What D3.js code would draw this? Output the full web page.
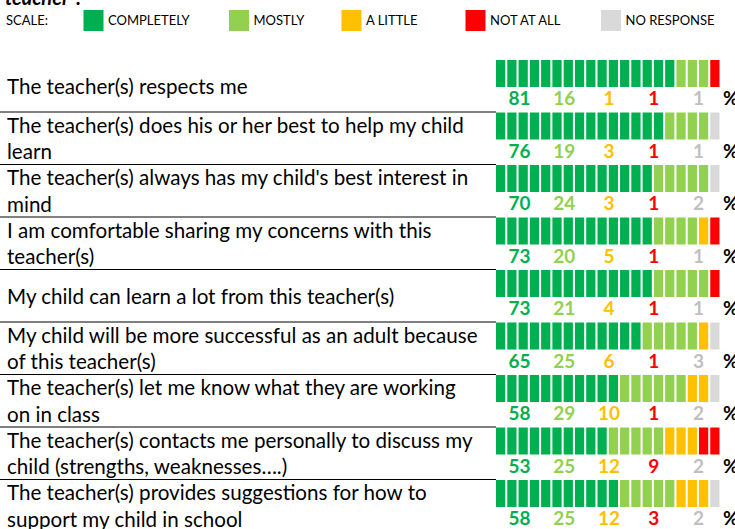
<!DOCTYPE html>
<html>
<head>
<meta charset="utf-8">
<script src="https://cdn.jsdelivr.net/npm/d3@7"></script>
<style>
  html, body { margin: 0; padding: 0; background: #fff; }
  svg { display: block; }
</style>
</head>
<body>
<svg id="chart" width="735" height="529"></svg>
<script>
// ---------- DATA ----------
const questions = [
  "The teacher(s) respects me",
  "The teacher(s) does his or her best to help my child\nlearn",
  "The teacher(s) always has my child's best interest in\nmind",
  "I am comfortable sharing my concerns with this\nteacher(s)",
  "My child can learn a lot from this teacher(s)",
  "My child will be more successful as an adult because\nof this teacher(s)",
  "The teacher(s) let me know what they are working\non in class",
  "The teacher(s) contacts me personally to discuss my\nchild (strengths, weaknesses….)",
  "The teacher(s) provides suggestions for how to\nsupport my child in school"
];
const scaleLabels = ["COMPLETELY", "MOSTLY", "A LITTLE", "NOT AT ALL", "NO RESPONSE"];
const scaleColors = ["#00B050", "#92D050", "#FFC000", "#FF0000", "#D9D9D9"];
const numberColors = ["#00B050", "#92D050", "#FFC000", "#FF0000", "#BFBFBF"];

// percentages
const pctCompletely  = [81, 76, 70, 73, 73, 65, 58, 53, 58];
const pctMostly      = [16, 19, 24, 20, 21, 25, 29, 25, 25];
const pctALittle     = [1, 3, 3, 5, 4, 6, 10, 12, 12];
const pctNotAtAll    = [1, 1, 1, 1, 1, 1, 1, 9, 3];
const pctNoResponse  = [1, 1, 2, 1, 1, 3, 2, 2, 2];

// number of 5% blocks drawn (as shown in the picture)
const cellsCompletely = [16, 15, 14, 14, 14, 13, 11, 10, 11];
const cellsMostly     = [3, 4, 5, 4, 5, 5, 6, 5, 5];
const cellsALittle    = [0, 0, 0, 1, 0, 1, 2, 3, 3];
const cellsNotAtAll   = [1, 0, 0, 1, 1, 0, 0, 2, 0];
const cellsNoResponse = [0, 1, 1, 0, 0, 1, 1, 0, 1];

const headerText = "teacher”:";
const scaleTitle = "SCALE:";

// ---------- BUILD ----------
const pctSeries = [pctCompletely, pctMostly, pctALittle, pctNotAtAll, pctNoResponse];
const cellSeries = [cellsCompletely, cellsMostly, cellsALittle, cellsNotAtAll, cellsNoResponse];

const rows = questions.map((q, i) => {
  const cells = [];
  cellSeries.forEach((s, k) => { for (let c = 0; c < s[i]; c++) cells.push(k); });
  return { q, lines: q.split("\n"), pcts: pctSeries.map(s => s[i]), cells };
});

const svg = d3.select("#chart");
const FONT = "Lato, 'Open Sans', sans-serif";

// scales
const y = d3.scaleBand().domain(d3.range(rows.length)).range([60, 60 + 52.5 * rows.length]).paddingInner(0).paddingOuter(0);
const xCell = d3.scaleBand().domain(d3.range(20)).range([496, 719.5]).paddingInner(0.18).paddingOuter(0);
const xNum = d3.scaleBand().domain(d3.range(5)).range([496, 720]);
const barH = 27;

// header (cut off)
svg.append("text").attr("x", 5).attr("y", 5)
  .attr("font-family", FONT).attr("font-weight", "bold").attr("font-style", "italic")
  .attr("font-size", 20).attr("fill", "#000").text(headerText);

// legend
const legendY = 20;
svg.append("text").attr("x", 6).attr("y", legendY + 4.5)
  .attr("font-family", FONT).attr("font-size", 13).attr("fill", "#000").text(scaleTitle);
const legendSquareX = [83.5, 229, 341.5, 465.5, 601];
const lg = svg.append("g");
scaleLabels.forEach((lab, k) => {
  lg.append("rect").attr("x", legendSquareX[k]).attr("y", 10).attr("width", 20).attr("height", 21)
    .attr("fill", scaleColors[k]);
  lg.append("text").attr("x", legendSquareX[k] + 24.5).attr("y", legendY + 4.5)
    .attr("font-family", FONT).attr("font-size", 13).attr("fill", "#000").text(lab);
});

// fit label font size
const probe = svg.append("text").attr("font-family", FONT).attr("font-size", 20)
  .text("The teacher(s) does his or her best to help my child");
const w20 = probe.node().getComputedTextLength();
probe.remove();
const labelSize = 20 * 457 / w20;
const lineGap = 26.5;

const g = svg.selectAll("g.row").data(rows).join("g").attr("class", "row");

// separators
g.filter((d, i) => i > 0).append("line")
  .attr("x1", 0).attr("x2", 496)
  .attr("y1", (d, i) => y(i + 1) - 0.5).attr("y2", (d, i) => y(i + 1) - 0.5)
  .attr("stroke", "#000").attr("stroke-width", 1);

// labels
g.each(function(d, i) {
  const cy = y(i) + y.bandwidth() / 2;
  const n = d.lines.length;
  const t = d3.select(this).append("text")
    .attr("font-family", FONT).attr("font-size", labelSize).attr("fill", "#000");
  d.lines.forEach((ln, j) => {
    t.append("tspan").attr("x", 7)
      .attr("y", cy + (j - (n - 1) / 2) * lineGap + labelSize * 0.36)
      .text(ln);
  });
});

// cells
g.selectAll("rect.cell").data((d, i) => d.cells.map((k, c) => ({ k, c, i })))
  .join("rect").attr("class", "cell")
  .attr("x", d => xCell(d.c)).attr("y", d => y(d.i))
  .attr("width", xCell.bandwidth()).attr("height", barH)
  .attr("fill", d => scaleColors[d.k]);

// numbers
g.selectAll("text.num").data((d, i) => d.pcts.map((v, k) => ({ v, k, i })))
  .join("text").attr("class", "num")
  .attr("x", d => xNum(d.k) + xNum.bandwidth() / 2 + 1)
  .attr("y", d => y(d.i) + 45)
  .attr("text-anchor", "middle")
  .attr("font-family", FONT).attr("font-weight", "bold").attr("font-size", 19)
  .attr("fill", d => numberColors[d.k])
  .text(d => d.v);

g.append("text").attr("x", 723).attr("y", (d, i) => y(i) + 45)
  .attr("font-family", FONT).attr("font-weight", "bold").attr("font-size", 19)
  .attr("fill", "#000").text("%");
</script>
</body>
</html>
